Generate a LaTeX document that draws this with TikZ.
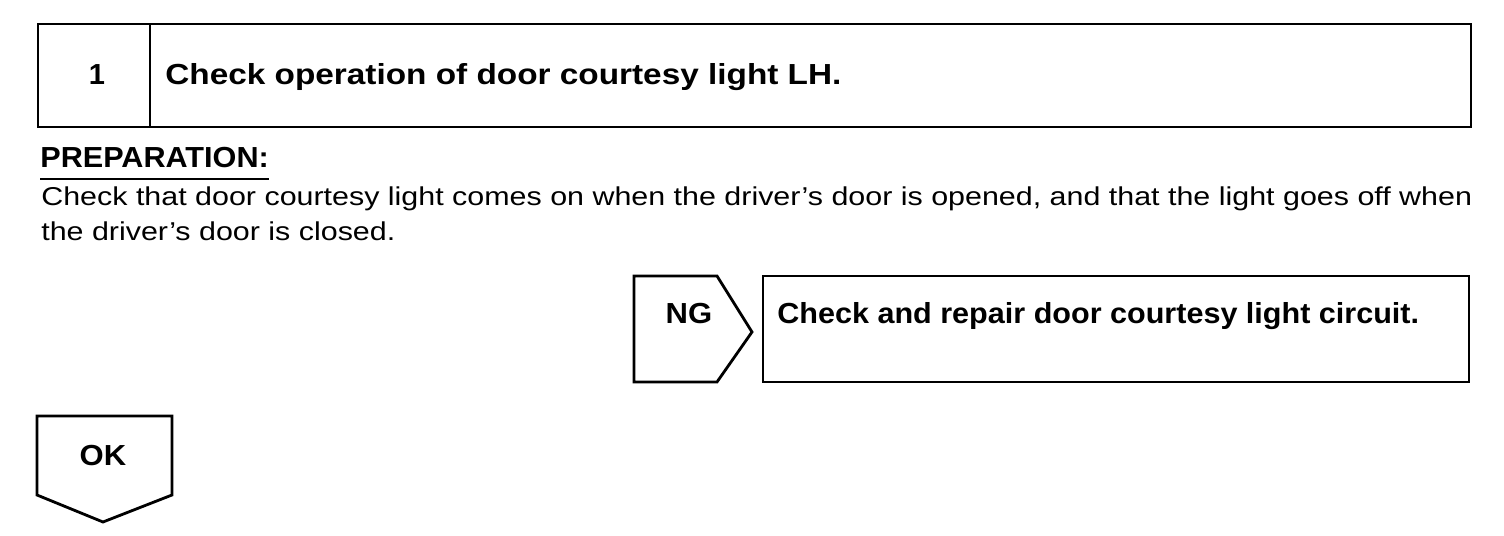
\documentclass[tikz,border=0pt]{standalone}
\usepackage{fontspec}
\setmainfont{Liberation Sans}
\usepackage{graphicx}
\usepackage{tikz}

\tikzset{
	box/.style={line width=1.6pt},
	bold/.style={font=\fontsize{16.5}{19}\selectfont\bfseries, inner sep=0pt},
	body/.style={font=\fontsize{14.7}{17}\selectfont, inner sep=0pt}
}

\begin{document}
\begin{tikzpicture}[x=0.02cm,y=-0.02cm]
	\useasboundingbox (0,0) rectangle (1504,536);
	
	%STEP HEADER
	\draw[box] (38,24) rectangle (1471,127);			%outer box
	\draw[box] (150,24)--(150,127);					%divider
	\node[bold,anchor=base] (num) at (97,85) {1};
	\node[bold,anchor=base west] (title) at (165,85) {\scalebox{1.15}[1]{Check operation of door courtesy light LH.}};
	
	%PREPARATION
	\node[bold,anchor=base west] (prep) at (40,168) {\scalebox{1.056}[1]{PREPARATION:}};
	\draw[line width=1.1pt] ([yshift=-0.22cm]prep.base west)--([yshift=-0.22cm]prep.base east);	%underline
	\node[body,anchor=base west] (line1) at (41,206) {\scalebox{1.178}[1]{Check that door courtesy light comes on when the driver’s door is opened, and that the light goes off when}};
	\node[body,anchor=base west] (line2) at (41,241) {\scalebox{1.178}[1]{the driver’s door is closed.}};
	
	%NG BRANCH
	\draw[box] (634,276)--(717,276)--(752,332)--(717,382)--(634,382)--cycle;	%NG arrow
	\node[bold,anchor=base] (ng) at (689,324) {\scalebox{1.07}[1]{NG}};
	\draw[box] (763,276) rectangle (1469,382);			%repair box
	\node[bold,anchor=base west] (repair) at (777,324) {\scalebox{1.054}[1]{Check and repair door courtesy light circuit.}};
	
	%OK BRANCH
	\draw[box] (37,416)--(172,416)--(172,495)--(103,522)--(37,495)--cycle;	%OK arrow
	\node[bold,anchor=base] (ok) at (103,466) {\scalebox{1.07}[1]{OK}};
\end{tikzpicture}
\end{document}
